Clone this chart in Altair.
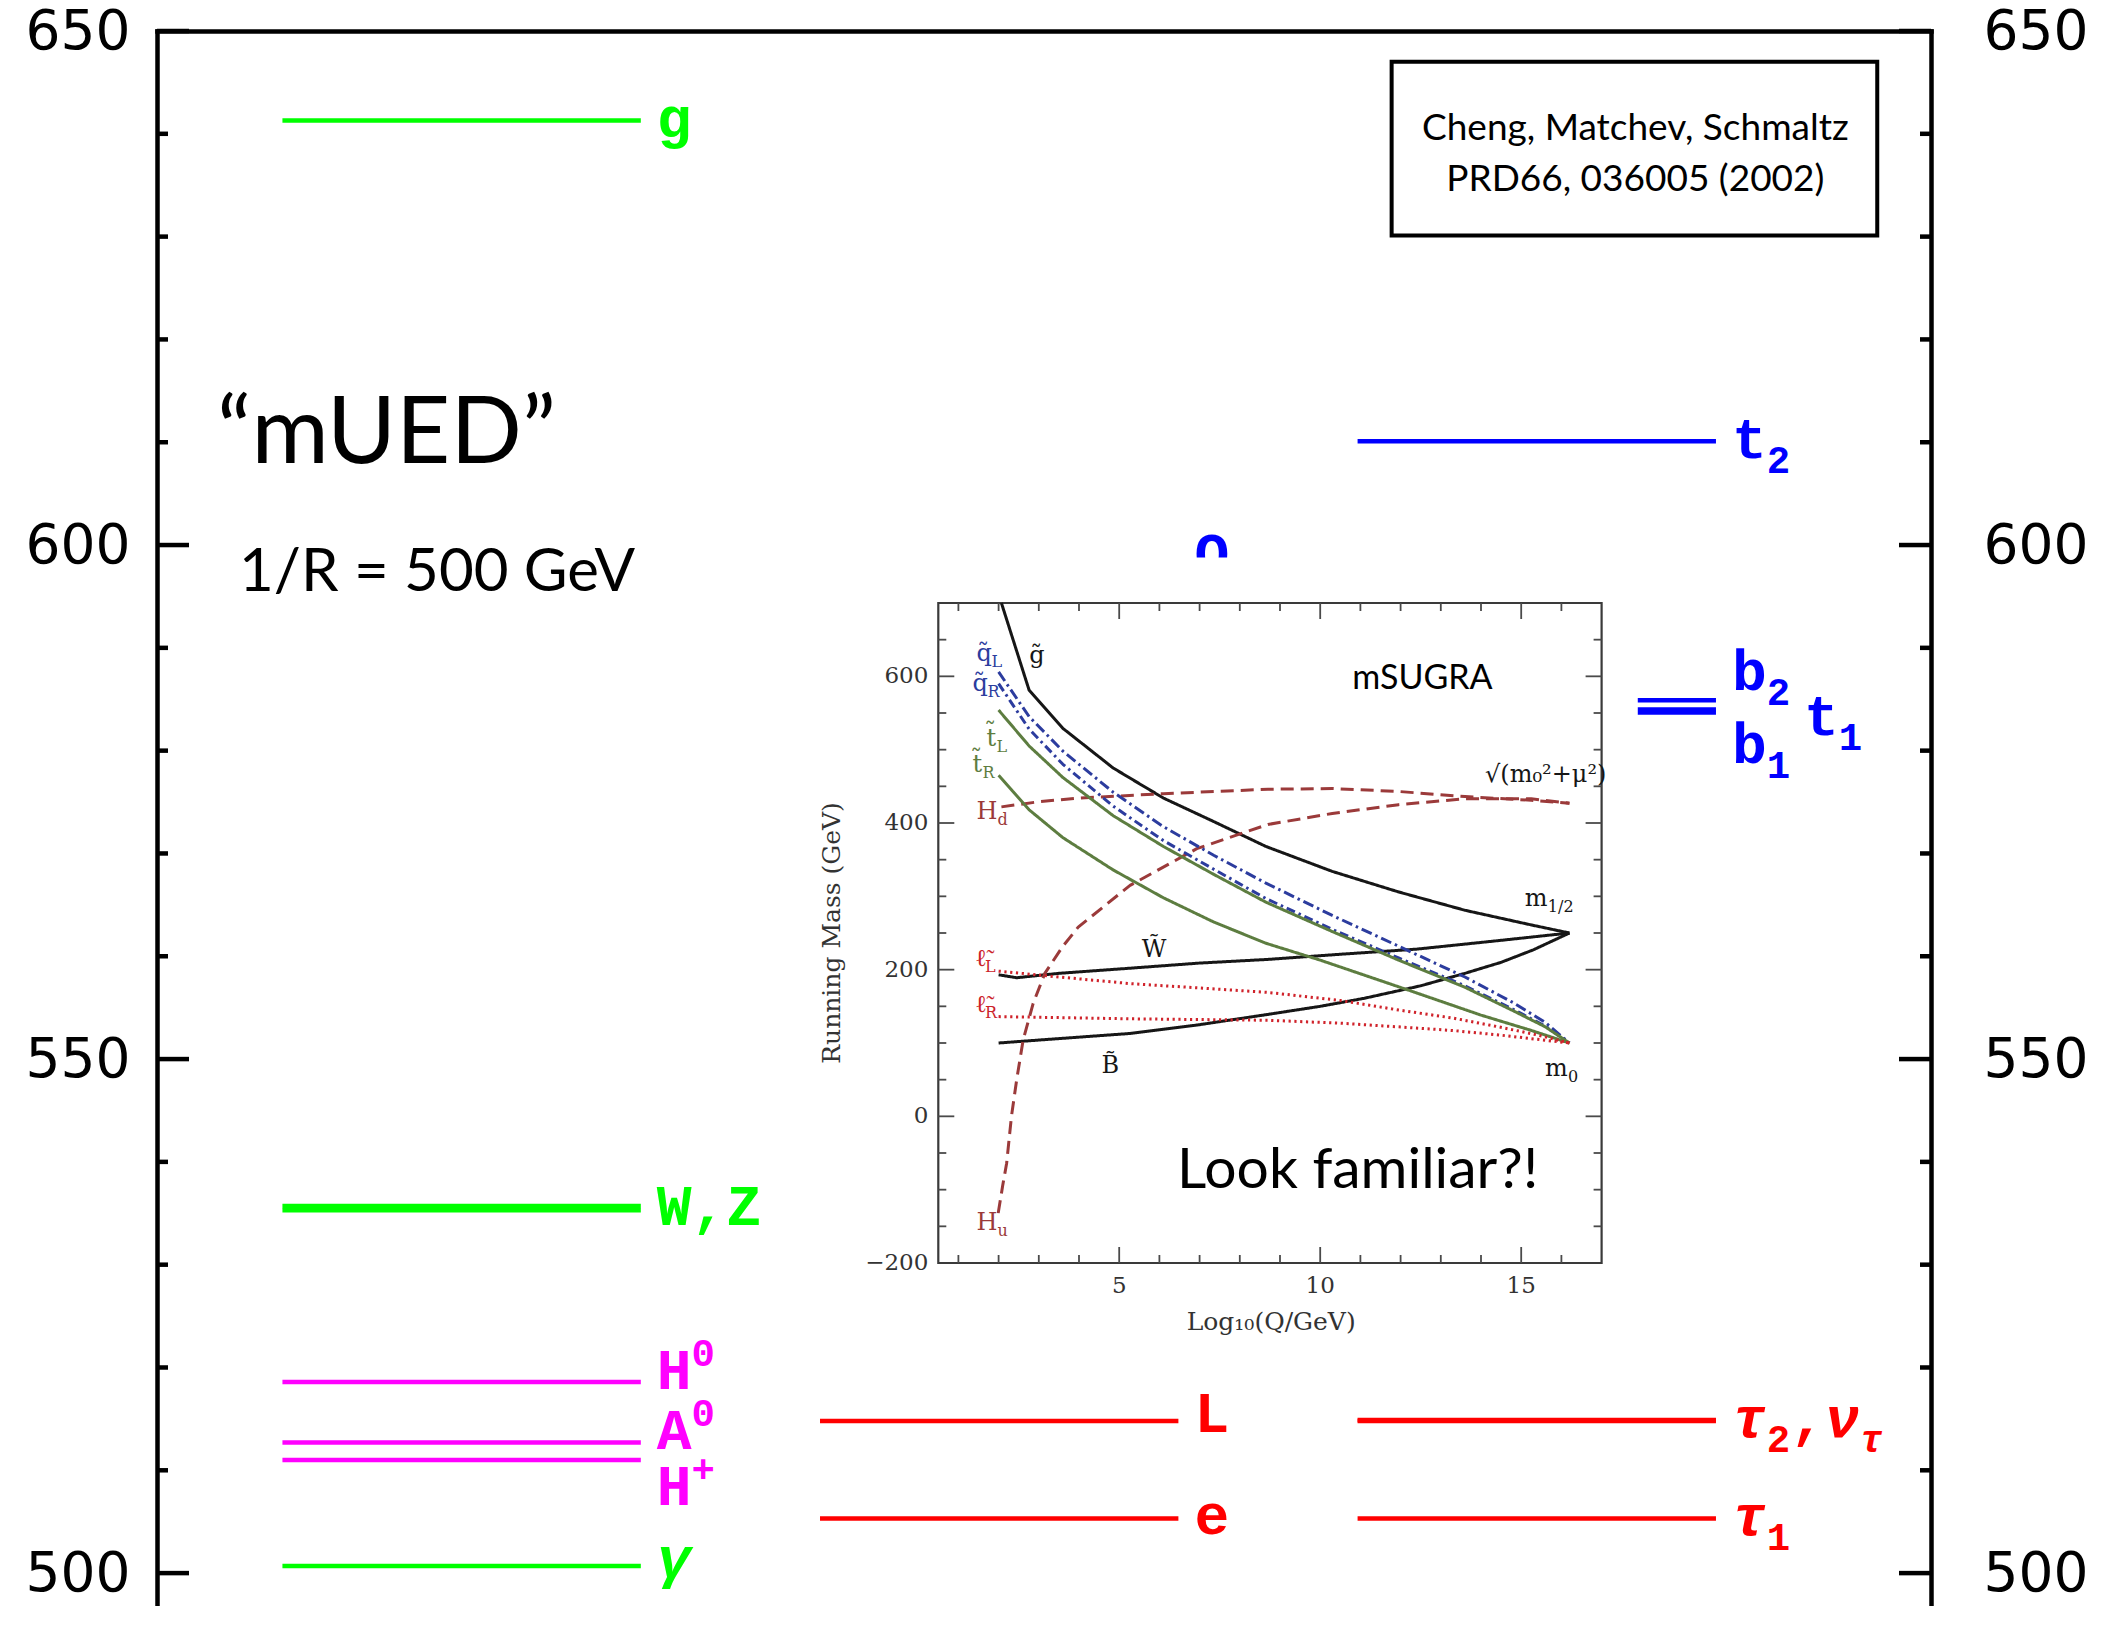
import altair as alt
import pandas as pd

# ============================ DATA ============================
# mUED first KK level spectrum, 1/R = 500 GeV (masses in GeV)
level_names  = ["g", "W", "Z", "H0", "A0", "H+", "gamma",
                "Q", "L", "e",
                "t2", "b2", "t1", "b1", "tau2", "nu_tau", "tau1"]
level_mass   = [641.3, 535.3, 535.7, 518.6, 512.7, 511.0, 500.7,
                597.0, 514.8, 505.3,
                610.1, 584.9, 584.0, 583.7, 514.8, 514.9, 505.3]
level_column = [1, 1, 1, 1, 1, 1, 1,
                2, 2, 2,
                3, 3, 3, 3, 3, 3, 3]
level_kind   = ["gauge", "gauge", "gauge", "higgs", "higgs", "higgs", "gauge",
                "quark", "lepton", "lepton",
                "quark", "quark", "quark", "quark", "lepton", "lepton", "lepton"]

# level labels: column, mass where the label is centred, colour kind, pieces
label_column = [1, 1, 1, 1, 1, 1, 2, 2, 2, 3, 3, 3, 3, 3, 3]
label_mass   = [641.3, 535.5, 519.6, 513.7, 508.3, 501.3, 598.9, 515.4, 505.5,
                610.1, 587.6, 583.2, 580.5, 514.9, 505.4]
label_kind   = ["gauge", "gauge", "higgs", "higgs", "higgs", "gauge", "quark", "lepton", "lepton",
                "quark", "quark", "quark", "quark", "lepton", "lepton"]
label_parts  = [
    [("g", "b")],
    [("W,Z", "b")],
    [("H", "b"), ("0", "sup")],
    [("A", "b"), ("0", "sup")],
    [("H", "b"), ("+", "sup")],
    [("γ", "bi")],
    [("Q", "b")],
    [("L", "b")],
    [("e", "b")],
    [("t", "b"), ("2", "sub")],
    [("b", "b"), ("2", "sub")],
    [("t", "b"), ("1", "sub")],
    [("b", "b"), ("1", "sub")],
    [("τ", "bi"), ("2", "sub"), (",", "b"), ("ν", "bi"), ("τ", "subi")],
    [("τ", "bi"), ("1", "sub")],
]

# main axis ticks
major_ticks = [500, 550, 600, 650]
minor_ticks = [510, 520, 530, 540, 560, 570, 580, 590, 610, 620, 630, 640]

# text annotations of the main panel
ann_text = ["“mUED”", "1/R = 500 GeV"]
ann_x    = [0.335, 0.458]
ann_y    = [608.0, 595.5]
cite_text = ["Cheng, Matchev, Schmaltz", "PRD66, 036005  (2002)"]
cite_y    = [639.4, 634.4]

# ---- inset: mSUGRA running masses, x = log10(Q/GeV), y = running mass (GeV)
logq_gluino = [2.07, 2.76, 3.6, 4.85, 6.1, 7.35, 8.65, 10.3, 11.95, 13.6, 15.25, 16.2]
mass_gluino = [700, 581, 529, 475, 434, 402, 368, 334, 306, 281, 261, 250]
logq_wino   = [2.0, 2.45, 3.5, 5.27, 7.0, 8.7, 10.5, 12.4, 14.5, 16.2]
mass_wino   = [193, 189, 195, 202, 209, 214, 221, 228, 240, 250]
logq_bino   = [2.0, 3.5, 5.27, 7.0, 8.7, 10.0, 11.1, 12.5, 13.6, 14.5, 15.3, 16.2]
mass_bino   = [100, 106, 113, 125, 139, 150, 161, 178, 195, 210, 227, 250]
logq_hd     = [2.07, 3.0, 4.0, 6.1, 8.7, 10.3, 11.95, 13.6, 15.25, 16.2]
mass_hd     = [422, 429, 434, 440, 446, 447, 443, 436, 431, 427]
logq_hu     = [1.99, 2.1, 2.2, 2.32, 2.45, 2.61, 2.86, 3.15, 3.6, 3.98, 5.27, 6.93, 8.7,
               10.3, 11.95, 13.6, 15.25, 16.2]
mass_hu     = [-132, -95, -64, 0, 50, 104, 154, 195, 232, 258, 315, 365, 398,
               413, 425, 433, 433, 427]
logq_ql     = [2.0, 2.76, 3.6, 4.85, 6.1, 7.35, 8.65, 10.3, 11.95, 13.6, 14.8, 15.6, 16.2]
mass_ql     = [606, 545, 498, 442, 395, 356, 318, 274, 232, 190, 155, 128, 100]
logq_qr     = [2.0, 2.76, 3.6, 4.85, 6.1, 7.35, 8.65, 10.3, 11.95, 13.6, 14.8, 15.6, 16.2]
mass_qr     = [590, 528, 480, 423, 376, 337, 297, 255, 216, 178, 146, 123, 100]
logq_tl     = [2.0, 2.76, 3.6, 4.85, 6.1, 7.35, 8.65, 10.3, 11.95, 13.6, 14.8, 15.6, 16.2]
mass_tl     = [554, 505, 462, 410, 368, 330, 292, 252, 213, 176, 144, 122, 100]
logq_tr     = [2.0, 2.76, 3.6, 4.85, 6.1, 7.35, 8.65, 10.0, 12.2, 14.0, 15.2, 16.2]
mass_tr     = [465, 418, 380, 336, 298, 265, 236, 213, 172, 138, 118, 100]
logq_ll     = [2.0, 3.5, 5.27, 7.0, 8.7, 10.5, 11.95, 13.3, 14.44, 15.4, 16.2]
mass_ll     = [198, 190, 181, 175, 169, 158, 145, 134, 122, 111, 100]
logq_lr     = [2.0, 5.27, 8.7, 10.5, 11.95, 13.3, 14.44, 15.4, 16.2]
mass_lr     = [136, 133, 131, 127, 122, 117, 111, 105, 100]

curve_names = ["gluino", "wino", "bino", "Hd", "Hu", "qL", "qR", "tL", "tR", "lL", "lR"]
curve_logq  = [logq_gluino, logq_wino, logq_bino, logq_hd, logq_hu, logq_ql, logq_qr,
               logq_tl, logq_tr, logq_ll, logq_lr]
curve_mass  = [mass_gluino, mass_wino, mass_bino, mass_hd, mass_hu, mass_ql, mass_qr,
               mass_tl, mass_tr, mass_ll, mass_lr]

# inset curve labels
ilab_text = ["g̃", "q̃", "q̃", "t̃", "t̃", "H", "W̃", "ℓ̃", "ℓ̃", "B̃", "H", "m", "m", "√(m₀²+μ²)"]
ilab_sub  = ["", "L", "R", "L", "R", "d", "", "L", "R", "", "u", "1/2", "0", ""]
ilab_q    = [2.76, 1.45, 1.35, 1.70, 1.35, 1.45, 5.56, 1.41, 1.41, 4.56, 1.45, 15.09, 15.59, 14.1]
ilab_m    = [628, 631, 590, 515, 479, 415, 227, 215, 152, 68, -146, 297, 65, 466]
ilab_kind = ["gaugino", "squark", "squark", "stop", "stop", "higgs", "gaugino",
             "slepton", "slepton", "gaugino", "higgs", "gaugino", "gaugino", "gaugino"]

inset_ytick_values = [-200, 0, 200, 400, 600]
inset_ytick_labels = ["−200", "0", "200", "400", "600"]
inset_xtick_values = [5, 10, 15]

# ============================ STYLE / LAYOUT ============================
W, H = 1774, 1575
Y_MIN, Y_MAX = 496.8, 650.0
X_MIN, X_MAX = 0.0, 9.9
PX_X = W / (X_MAX - X_MIN)
PX_Y = H / (Y_MAX - Y_MIN)
COL_START = {1: 0.7, 2: 3.7, 3: 6.7}
COL_LEN = 2.0

KIND_COLOR = {"gauge": "#00ff00", "higgs": "#ff00ff", "quark": "#0000ff", "lepton": "#ff0000"}

FS_BIG, FS_SMALL = 58, 39
CELL_BIG, CELL_SMALL = 0.6 * FS_BIG, 0.6 * FS_SMALL
LABEL_GAP = 16
SUB_DROP, SUP_RISE = 20, 18
INDENT_CELLS = {11: 2}          # t1 label sits to the right of b2/b1

IX_DOM, IX_RANGE = [0.5, 17.0], [781.3, 1444.6]
IY_DOM, IY_RANGE = [-200.0, 700.0], [1232.0, 572.0]
IPX_X = (IX_RANGE[1] - IX_RANGE[0]) / (IX_DOM[1] - IX_DOM[0])
IPX_Y = (IY_RANGE[0] - IY_RANGE[1]) / (IY_DOM[1] - IY_DOM[0])

ILAB_COLOR = {"gaugino": "#161616", "squark": "#2c3c9e", "stop": "#5d7d40",
              "higgs": "#9b3a3a", "slepton": "#cc2229"}
CURVE_COLOR = ["#161616", "#161616", "#161616", "#9b3a3a", "#9b3a3a", "#2c3c9e", "#2c3c9e",
               "#5d7d40", "#5d7d40", "#d0232b", "#d0232b"]
CURVE_DASH = [[1, 0], [1, 0], [1, 0], [13, 7], [13, 7], [11, 4, 2.5, 4], [9, 4, 2.5, 4],
              [1, 0], [1, 0], [2.2, 3.6], [2.2, 3.6]]
GLYPH_W = {"q̃": 15, "t̃": 10, "H": 21, "ℓ̃": 10, "m": 23}

MX_SCALE = alt.Scale(domain=[X_MIN, X_MAX], nice=False, zero=False)
MY_SCALE = alt.Scale(domain=[Y_MIN, Y_MAX], nice=False, zero=False)
IX_SCALE = alt.Scale(domain=IX_DOM, range=IX_RANGE, nice=False, zero=False)
IY_SCALE = alt.Scale(domain=IY_DOM, range=IY_RANGE, nice=False, zero=False)


def mX(f):
    return alt.X(f, type="quantitative", scale=MX_SCALE, axis=None)


def mY(f):
    return alt.Y(f, type="quantitative", scale=MY_SCALE, axis=None)


def iX(f):
    return alt.X(f, type="quantitative", scale=IX_SCALE, axis=None)


def iY(f):
    return alt.Y(f, type="quantitative", scale=IY_SCALE, axis=None)


# ============================ TABLES ============================
levels = pd.DataFrame({
    "name": level_names,
    "m": level_mass,
    "x0": [COL_START[c] for c in level_column],
    "x1": [COL_START[c] + COL_LEN for c in level_column],
    "color": [KIND_COLOR[k] for k in level_kind],
})

rows = []
for i, (col, m, kind, parts) in enumerate(zip(label_column, label_mass, label_kind, label_parts)):
    off = LABEL_GAP + INDENT_CELLS.get(i, 0) * 0.6 * 60
    x_end = COL_START[col] + COL_LEN
    for text, role in parts:
        small = role in ("sub", "sup", "subi")
        italic = role in ("bi", "subi")
        if role in ("sub", "subi"):
            dy = SUB_DROP
        elif role == "sup":
            dy = -SUP_RISE
        else:
            dy = 0
        rows.append({"x": x_end + off / PX_X, "m": m - dy / PX_Y, "text": text,
                     "size": FS_SMALL if small else FS_BIG,
                     "color": KIND_COLOR[kind], "italic": italic})
        off += len(text) * (CELL_SMALL if small else CELL_BIG)
labels = pd.DataFrame(rows)

major_df = pd.DataFrame({"v": major_ticks})
minor_df = pd.DataFrame({"v": minor_ticks})
ann_df = pd.DataFrame({"x": ann_x, "y": ann_y, "text": ann_text, "size": [94, 60]})
cite_box = pd.DataFrame({"x": [6.89], "x2": [9.60], "y": [630.1], "y2": [647.0]})
cite_df = pd.DataFrame({"x": [8.25, 8.25], "y": cite_y, "text": cite_text})

curve_rows = []
for name, qs, ms in zip(curve_names, curve_logq, curve_mass):
    for q, mm in zip(qs, ms):
        curve_rows.append({"curve": name, "q": q, "mass": mm})
curves = pd.DataFrame(curve_rows)

ilab_base = pd.DataFrame({"q": ilab_q, "m": ilab_m, "text": ilab_text,
                          "color": [ILAB_COLOR[k] for k in ilab_kind]})
sub_rows = []
for t, s, q, mm, k in zip(ilab_text, ilab_sub, ilab_q, ilab_m, ilab_kind):
    if s:
        sub_rows.append({"q": q + GLYPH_W.get(t, 14) / IPX_X, "m": mm - 8 / IPX_Y,
                         "text": s, "color": ILAB_COLOR[k]})
ilab_subs = pd.DataFrame(sub_rows)

MAJ, MIN = 16, 8
tick_rows = []
for q in range(1, 17):
    L = MAJ if q % 5 == 0 else MIN
    tick_rows.append({"x": q, "x2": q, "y": IY_DOM[0], "y2": IY_DOM[0] + L / IPX_Y})
    tick_rows.append({"x": q, "x2": q, "y": IY_DOM[1], "y2": IY_DOM[1] - L / IPX_Y})
for v in range(-150, 700, 50):
    L = MAJ if v % 200 == 0 else MIN
    tick_rows.append({"x": IX_DOM[0], "x2": IX_DOM[0] + L / IPX_X, "y": v, "y2": v})
    tick_rows.append({"x": IX_DOM[1], "x2": IX_DOM[1] - L / IPX_X, "y": v, "y2": v})
itick_df = pd.DataFrame(tick_rows)

# ============================ MAIN PANEL ============================
frame_axis = dict(grid=False, domain=True, domainColor="black", domainWidth=4.5,
                  domainCap="square", title=None)

level_lines = alt.Chart(levels).mark_rule(strokeWidth=4.5, strokeCap="butt").encode(
    x=alt.X("x0:Q", scale=MX_SCALE,
            axis=alt.Axis(orient="top", labels=False, ticks=False, **frame_axis)),
    x2="x1:Q",
    y=alt.Y("m:Q", scale=MY_SCALE,
            axis=alt.Axis(orient="left", values=major_ticks, ticks=False, tickSize=0,
                          labelFont="DejaVu Sans", labelFontSize=55, labelColor="black",
                          labelPadding=27, labelFlush=False, labelOverlap=False, **frame_axis)),
    color=alt.Color("color:N", scale=None),
)

ticks_left_major = alt.Chart(major_df).mark_rule(color="black", strokeWidth=4.5).encode(
    y=mY("v"), x=alt.value(0), x2=alt.value(32))
ticks_left_minor = alt.Chart(minor_df).mark_rule(color="black", strokeWidth=4.5).encode(
    y=mY("v"), x=alt.value(0), x2=alt.value(11))
ticks_right_major = alt.Chart(major_df).mark_rule(color="black", strokeWidth=4.5).encode(
    y=alt.Y("v:Q", scale=MY_SCALE,
            axis=alt.Axis(orient="right", values=major_ticks, ticks=False, tickSize=0,
                          labelFont="DejaVu Sans", labelFontSize=55, labelColor="black",
                          labelPadding=52, labelFlush=False, labelOverlap=False, **frame_axis)),
    x=alt.value(W - 32), x2=alt.value(W))
ticks_right_minor = alt.Chart(minor_df).mark_rule(color="black", strokeWidth=4.5).encode(
    y=mY("v"), x=alt.value(W - 11), x2=alt.value(W))

label_enc = dict(x=mX("x"), y=mY("m"), text="text:N",
                 size=alt.Size("size:Q", scale=None), color=alt.Color("color:N", scale=None))
labels_upright = alt.Chart(labels[~labels["italic"]]).mark_text(
    font="Liberation Mono", fontWeight="bold", align="left", baseline="middle").encode(**label_enc)
labels_italic = alt.Chart(labels[labels["italic"]]).mark_text(
    font="Liberation Mono", fontWeight="bold", fontStyle="italic", align="left",
    baseline="middle").encode(**label_enc)

ann = alt.Chart(ann_df).mark_text(font="Lato", align="left", baseline="alphabetic",
                                  color="black").encode(
    x=mX("x"), y=mY("y"), text="text:N", size=alt.Size("size:Q", scale=None))

cite_rect = alt.Chart(cite_box).mark_rect(fill="white", stroke="black", strokeWidth=4).encode(
    x=mX("x"), x2="x2:Q", y=mY("y"), y2="y2:Q")
cite_txt = alt.Chart(cite_df).mark_text(font="Lato", fontSize=37, align="center",
                                        baseline="alphabetic", color="black").encode(
    x=mX("x"), y=mY("y"), text="text:N")

# ============================ INSET ============================
inset_white = alt.Chart(pd.DataFrame({"x": [-2.6], "x2": [17.9], "y": [-305], "y2": [762]})
                        ).mark_rect(color="white").encode(
    x=iX("x"), x2="x2:Q", y=iY("y"), y2="y2:Q")
inset_frame = alt.Chart(pd.DataFrame({"x": [IX_DOM[0]], "x2": [IX_DOM[1]],
                                      "y": [IY_DOM[0]], "y2": [IY_DOM[1]]})
                        ).mark_rect(filled=False, color="#3a3a3a", strokeWidth=2.2).encode(
    x=iX("x"), x2="x2:Q", y=iY("y"), y2="y2:Q")
inset_ticks = alt.Chart(itick_df).mark_rule(color="#4a4a4a", strokeWidth=1.8).encode(
    x=iX("x"), x2="x2:Q", y=iY("y"), y2="y2:Q")
inset_ylab = alt.Chart(pd.DataFrame({"v": inset_ytick_values, "t": inset_ytick_labels,
                                     "q": [IX_DOM[0]] * len(inset_ytick_values)})
                       ).mark_text(font="DejaVu Serif", fontSize=23, align="right",
                                   baseline="middle", dx=-10, color="#333333").encode(
    x=iX("q"), y=iY("v"), text="t:N")
inset_xlab = alt.Chart(pd.DataFrame({"q": inset_xtick_values,
                                     "v": [IY_DOM[0]] * len(inset_xtick_values)})
                       ).mark_text(font="DejaVu Serif", fontSize=23, align="center",
                                   baseline="middle", dy=23, color="#333333").encode(
    x=iX("q"), y=iY("v"), text="q:N")
inset_curves = alt.Chart(curves).mark_line(strokeWidth=3.0, strokeJoin="round").encode(
    x=iX("q"), y=iY("mass"),
    color=alt.Color("curve:N", scale=alt.Scale(domain=curve_names, range=CURVE_COLOR), legend=None),
    strokeDash=alt.StrokeDash("curve:N", scale=alt.Scale(domain=curve_names, range=CURVE_DASH),
                              legend=None),
    detail="curve:N",
)
inset_lab = alt.Chart(ilab_base).mark_text(font="DejaVu Serif", fontSize=24, align="left",
                                           baseline="middle").encode(
    x=iX("q"), y=iY("m"), text="text:N", color=alt.Color("color:N", scale=None))
inset_sub = alt.Chart(ilab_subs).mark_text(font="DejaVu Serif", fontSize=16, align="left",
                                           baseline="middle").encode(
    x=iX("q"), y=iY("m"), text="text:N", color=alt.Color("color:N", scale=None))
inset_titles = alt.Chart(pd.DataFrame({"q": [-2.14], "m": [250], "t": ["Running Mass (GeV)"]})
                         ).mark_text(font="DejaVu Serif", fontSize=25, angle=270, align="center",
                                     baseline="middle", color="#333333").encode(
    x=iX("q"), y=iY("m"), text="t:N")
inset_xtitle = alt.Chart(pd.DataFrame({"q": [8.78], "m": [-280], "t": ["Log₁₀(Q/GeV)"]})
                         ).mark_text(font="DejaVu Serif", fontSize=25, align="center",
                                     baseline="middle", color="#333333").encode(
    x=iX("q"), y=iY("m"), text="t:N")
inset_sugra = alt.Chart(pd.DataFrame({"q": [10.8], "m": [597], "t": ["mSUGRA"]})
                        ).mark_text(font="Lato", fontSize=34, align="left", baseline="middle",
                                    color="black").encode(
    x=iX("q"), y=iY("m"), text="t:N")
inset_look = alt.Chart(pd.DataFrame({"q": [6.44], "m": [-74.6], "t": ["Look familiar?!"]})
                       ).mark_text(font="Lato", fontSize=57, align="left", baseline="middle",
                                   color="black").encode(
    x=iX("q"), y=iY("m"), text="t:N")

chart = alt.layer(
    level_lines, labels_upright, labels_italic,
    ticks_left_major, ticks_left_minor, ticks_right_major, ticks_right_minor,
    ann, cite_rect, cite_txt,
    inset_white, inset_frame, inset_ticks, inset_ylab, inset_xlab, inset_curves,
    inset_lab, inset_sub, inset_titles, inset_xtitle, inset_sugra, inset_look,
).resolve_scale(
    x="independent", y="independent"
).properties(
    width=W, height=H,
    autosize=alt.AutoSizeParams(type="none"),
    padding={"left": 149, "top": 23, "right": 160, "bottom": 0},
).configure_view(stroke=None)

chart.save("out.html", embed_options={"renderer": "svg", "actions": False})
